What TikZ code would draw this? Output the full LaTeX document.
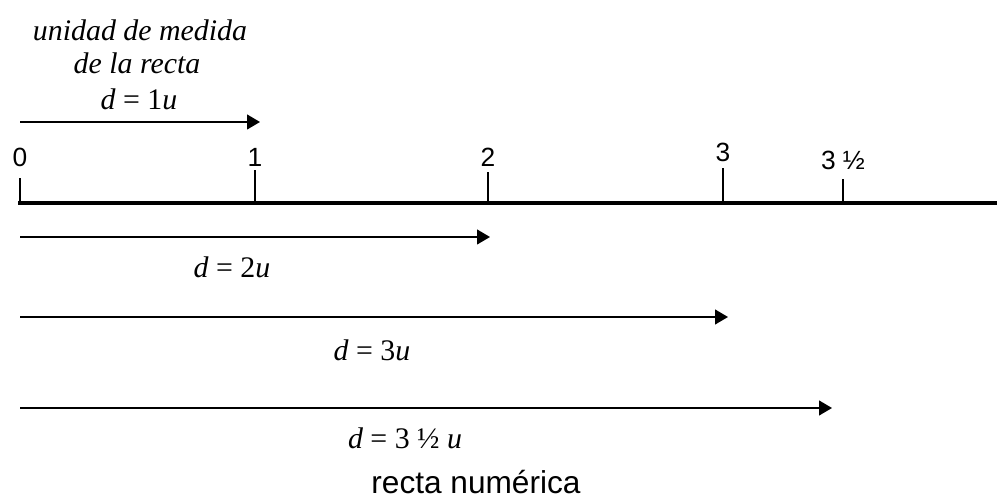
\documentclass[tikz,border=0pt]{standalone}
\usepackage{fontspec}
\setmainfont{Liberation Serif}
\newfontfamily\arial{Liberation Sans}
\usetikzlibrary{arrows.meta}

\begin{document}
\begin{tikzpicture}[
x=0.02cm,y=-0.02cm,
num/.style={font=\arial\fontsize{15}{17}\selectfont,inner sep=0pt},
lbl/.style={font=\fontsize{17}{20}\selectfont\itshape,inner sep=0pt},
vec/.style={-{Triangle[length=7.4pt,width=8.5pt]},line width=0.8pt},
axis/.style={line width=2.8pt},
tick/.style={line width=1.6pt}
]
\useasboundingbox (0,0) rectangle (997,499);

% texto de la unidad
\node[lbl] (t1) at (140,30) {unidad de medida};
\node[lbl] (t2) at (137,63) {de la recta};
\node[lbl] (d1) at (139,99) {d \upshape= 1\itshape u};

% recta
\coordinate (a0) at (18,203);
\coordinate (a1) at (997,203);
\draw[axis] (a0) -- (a1);

\node[num] (n0) at (20,157) {0};
\node[num] (n1) at (255,157) {1};
\node[num] (n2) at (488,157) {2};
\node[num] (n3) at (723,152) {3};
\node[num] (n4) at (843,160) {3 ½};

\draw[tick] (20,203) -- (20,178);
\draw[tick] (255,203) -- (255,170);
\draw[tick] (488,203) -- (488,172);
\draw[tick] (723,203) -- (723,168);
\draw[line width=0.8pt] (843,203) -- (843,179);

% vectores
\coordinate (o1) at (20,122);
\coordinate (e1) at (260,122);
\draw[vec] (o1) -- (e1);

\coordinate (o2) at (20,237);
\coordinate (e2) at (490,237);
\draw[vec] (o2) -- (e2);
\node[lbl] (d2) at (232,267) {d \upshape= 2\itshape u};

\coordinate (o3) at (20,317);
\coordinate (e3) at (728,317);
\draw[vec] (o3) -- (e3);
\node[lbl] (d3) at (372,350) {d \upshape= 3\itshape u};

\coordinate (o4) at (20,408);
\coordinate (e4) at (832,408);
\draw[vec] (o4) -- (e4);
\node[lbl] (d4) at (405,438) {d \upshape= 3 ½ \itshape u};

\node[font=\arial\fontsize{18}{20}\selectfont,inner sep=0pt,anchor=base] (rn) at (476,494) {recta numérica};
\end{tikzpicture}
\end{document}
